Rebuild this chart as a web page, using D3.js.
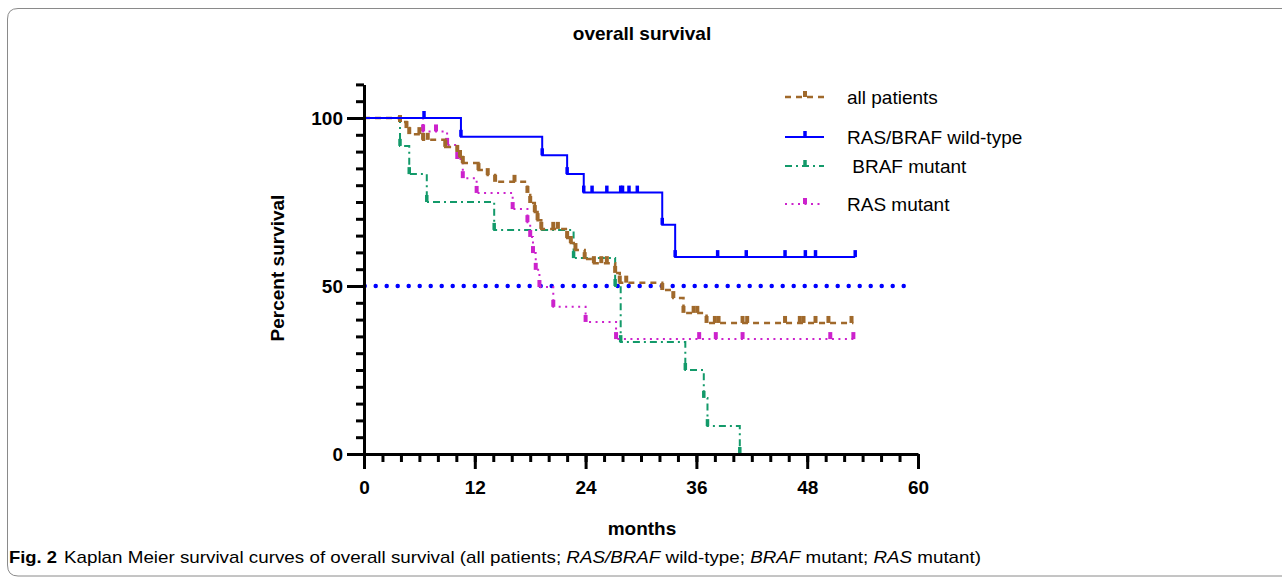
<!DOCTYPE html>
<html><head><meta charset="utf-8">
<script src="https://cdn.jsdelivr.net/npm/d3@7"></script>
<style>body{margin:0;background:#fff} svg{display:block}</style>
</head><body>
<script>
// ---- data ----
const xTickLabels = [0, 12, 24, 36, 48, 60];
const yTickLabels = [0, 50, 100];
const seriesNames = ["all patients", "RAS/BRAF wild-type", " BRAF mutant", "RAS mutant"];

// all patients
const allEventTimes = [3.9, 4.6, 4.9, 6.4, 8.8, 10.1, 10.4, 10.7, 12.4, 13.4, 14.2, 17.7, 18.0, 18.5, 18.8, 19.2, 22.0, 22.4, 22.9, 23.9, 24.9, 27.2, 27.7, 32.3, 33.5, 34.6, 37.1];
const allEventSurv  = [98.8, 97.0, 95.2, 93.5, 91.4, 89.9, 88.4, 86.6, 84.5, 83.0, 81.0, 77.7, 74.7, 72.0, 69.6, 67.0, 64.3, 62.8, 60.7, 58.0, 56.8, 53.9, 51.0, 48.8, 46.4, 42.0, 39.0];
const allCensored   = [6.0, 6.9, 16.3, 20.5, 21.0, 25.7, 26.3, 28.4, 35.7, 36.1, 38.0, 38.4, 41.0, 41.5, 45.6, 47.2, 47.6, 48.9, 50.3, 52.8];
const allEnd = 53.0;

// RAS/BRAF wild-type
const wtEventTimes = [10.5, 19.3, 22.0, 23.8, 32.3, 33.7];
const wtEventSurv  = [94.4, 88.9, 83.3, 77.8, 68.2, 58.6];
const wtCensored   = [6.5, 24.7, 26.3, 27.8, 28.0, 28.7, 29.6, 38.3, 41.4, 45.6, 47.8, 48.9, 53.2];
const wtEnd = 53.2;

// BRAF mutant
const brafEventTimes = [3.9, 4.9, 6.8, 14.1, 22.7, 27.2, 27.8, 34.8, 36.8, 37.2, 40.7];
const brafEventSurv  = [91.7, 83.3, 75.0, 66.7, 58.3, 50.0, 33.3, 25.0, 16.7, 8.3, 0];
const brafCensored   = [];
const brafEnd = 40.7;

// RAS mutant
const rasEventTimes = [6.4, 9.0, 10.1, 10.7, 12.2, 16.1, 17.7, 18.0, 18.3, 18.6, 19.0, 20.5, 24.0, 27.3];
const rasEventSurv  = [96.0, 92.0, 87.8, 82.1, 77.7, 72.9, 69.0, 64.6, 59.8, 54.8, 49.7, 43.8, 39.3, 34.2];
const rasCensored   = [7.8, 36.3, 38.1, 41.0, 50.5, 53.0];
const rasEnd = 53.0;

const refLevel = 50;
const refStart = 0, refEnd = 59;

// ---- setup ----
const W = 1282, H = 578;
const svg = d3.select("body").append("svg").attr("width", W).attr("height", H);

const x = d3.scaleLinear().domain([0, 60]).range([364, 918]);
const y = d3.scaleLinear().domain([0, 110]).range([454, 454 - 110 * 3.36]);

// frame
svg.append("path")
  .attr("d", `M ${W + 5} 8.5 L 18 8.5 Q 7.5 8.5 7.5 19 L 7.5 565 Q 7.5 576 18 576 L ${W + 5} 576`)
  .attr("fill", "none").attr("stroke", "#8a8a8a").attr("stroke-width", 1);

const series = [
  {name: seriesNames[0], times: allEventTimes, surv: allEventSurv, cens: allCensored, end: allEnd, color: "#A0692B", dash: "6,5", width: 2.5, tick: 4},
  {name: seriesNames[1], times: wtEventTimes, surv: wtEventSurv, cens: wtCensored, end: wtEnd, color: "#0000FF", dash: null, width: 2, tick: 3.5},
  {name: seriesNames[2], times: brafEventTimes, surv: brafEventSurv, cens: brafCensored, end: brafEnd, color: "#139A6A", dash: "7,4,2,4", width: 2, tick: 3.5},
  {name: seriesNames[3], times: rasEventTimes, surv: rasEventSurv, cens: rasCensored, end: rasEnd, color: "#CC22CC", dash: "2,4.5", width: 2, tick: 4}
];

function levelAt(s, t) {
  let lv = 100;
  for (let i = 0; i < s.times.length; i++) if (s.times[i] <= t) lv = s.surv[i];
  return lv;
}

// reference 50% line
svg.append("line")
  .attr("x1", x(refStart)).attr("x2", x(refEnd))
  .attr("y1", y(refLevel)).attr("y2", y(refLevel))
  .attr("stroke", "#0000FF").attr("stroke-width", 4.5)
  .attr("stroke-linecap", "round").attr("stroke-dasharray", "0,11").attr("stroke-dashoffset", -11.7);

const drawOrder = [2, 3, 0, 1];
const tickH = 7;
drawOrder.forEach(k => {
  const s = series[k];
  const pts = [[0, 100]];
  let prev = 100;
  s.times.forEach((t, i) => { pts.push([t, prev]); pts.push([t, s.surv[i]]); prev = s.surv[i]; });
  pts.push([s.end, prev]);
  const line = d3.line().x(d => x(d[0])).y(d => y(d[1]));
  const p = svg.append("path").attr("d", line(pts))
    .attr("fill", "none").attr("stroke", s.color).attr("stroke-width", s.width);
  if (s.dash) p.attr("stroke-dasharray", s.dash);
  // tick symbols at every point (events + censored)
  const marks = s.times.map((t, i) => [t, s.surv[i]]).concat(s.cens.map(t => [t, levelAt(s, t)]));
  svg.append("g").selectAll("line").data(marks).join("line")
    .attr("x1", d => x(d[0])).attr("x2", d => x(d[0]))
    .attr("y1", d => y(d[1])).attr("y2", d => y(d[1]) - tickH)
    .attr("stroke", s.color).attr("stroke-width", s.tick);
});

// ---- axes ----
const fontBold = "bold 19px 'Liberation Sans', Arial, sans-serif";

const yMinor = d3.range(0, 111, 5);
svg.append("g").attr("transform", `translate(${x(0)},0)`)
  .call(d3.axisLeft(y).tickValues(yMinor).tickSize(8).tickFormat("").tickSizeOuter(0))
  .call(g => g.selectAll("line,path").attr("stroke", "#000").attr("stroke-width", 3));
svg.append("g").attr("transform", `translate(${x(0)},0)`)
  .call(d3.axisLeft(y).tickValues(yTickLabels).tickSize(17).tickPadding(4).tickSizeOuter(0))
  .call(g => g.select(".domain").remove())
  .call(g => g.selectAll("line").attr("stroke", "#000").attr("stroke-width", 3))
  .call(g => g.selectAll("text").style("font", fontBold).attr("fill", "#000"));

const xMinor = d3.range(0, 61, 2);
svg.append("g").attr("transform", `translate(0,${y(0)})`)
  .call(d3.axisBottom(x).tickValues(xMinor).tickSize(8).tickFormat("").tickSizeOuter(0))
  .call(g => g.selectAll("line,path").attr("stroke", "#000").attr("stroke-width", 3));
svg.append("g").attr("transform", `translate(0,${y(0)})`)
  .call(d3.axisBottom(x).tickValues(xTickLabels).tickSize(15).tickPadding(12).tickSizeOuter(0))
  .call(g => g.select(".domain").remove())
  .call(g => g.selectAll("line").attr("stroke", "#000").attr("stroke-width", 3))
  .call(g => g.selectAll("text").style("font", fontBold).attr("fill", "#000"));

// ---- titles ----
svg.append("text").attr("x", 642).attr("y", 40).attr("text-anchor", "middle")
  .style("font", fontBold).text("overall survival");
svg.append("text").attr("transform", "translate(284,268) rotate(-90)").attr("text-anchor", "middle")
  .style("font", fontBold).text("Percent survival");
svg.append("text").attr("x", 642).attr("y", 535).attr("text-anchor", "middle")
  .style("font", fontBold).text("months");

// ---- legend ----
const legY = [97, 137, 166, 204];
const legTextX = [847, 847, 847, 847];
series.forEach((s, i) => {
  const g = svg.append("g");
  const l = g.append("line").attr("x1", 785).attr("x2", 824).attr("y1", legY[i]).attr("y2", legY[i])
    .attr("stroke", s.color).attr("stroke-width", s.width);
  if (s.dash) l.attr("stroke-dasharray", s.dash);
  g.append("line").attr("x1", 805).attr("x2", 805).attr("y1", legY[i]).attr("y2", legY[i] - 6)
    .attr("stroke", s.color).attr("stroke-width", s.tick);
  g.append("text").attr("x", legTextX[i]).attr("y", legY[i] + 6.5)
    .attr("xml:space", "preserve").style("white-space", "pre")
    .style("font", "19px 'Liberation Sans', Arial, sans-serif").text(s.name);
});

// ---- caption ----
const capFont = "'Liberation Sans Narrow', 'Liberation Sans', Arial, sans-serif";
svg.append("text").attr("x", 9).attr("y", 563)
  .attr("textLength", 48).attr("lengthAdjust", "spacingAndGlyphs")
  .style("font-family", capFont).style("font-size", "17px").style("font-weight", "bold").text("Fig. 2");
const cap = svg.append("text").attr("x", 64).attr("y", 563)
  .attr("textLength", 917).attr("lengthAdjust", "spacingAndGlyphs")
  .style("font-family", capFont).style("font-size", "17px");
const parts = [["Kaplan Meier survival curves of overall survival (all patients; ", false], ["RAS/BRAF", true], [" wild-type; ", false], ["BRAF", true], [" mutant; ", false], ["RAS", true], [" mutant)", false]];
parts.forEach(([t, it]) => {
  const ts = cap.append("tspan").text(t);
  if (it) ts.style("font-style", "italic");
});
cap.attr("xml:space", "preserve");
</script>
</body></html>
